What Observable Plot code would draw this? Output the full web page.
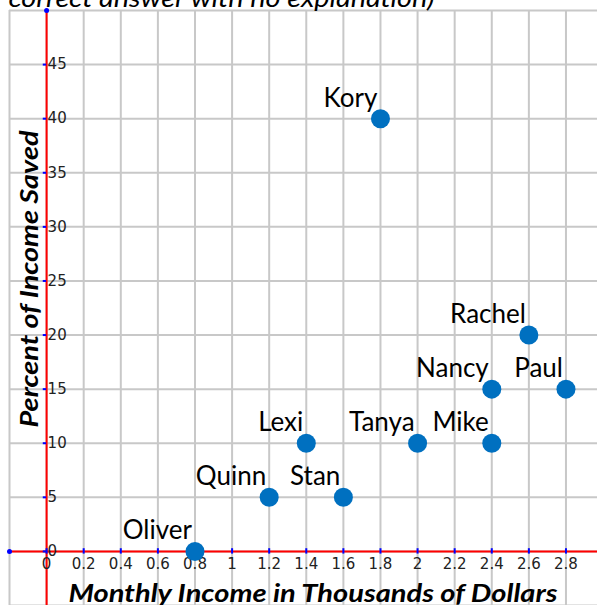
<!DOCTYPE html>
<html><head><meta charset="utf-8">
<script src="https://cdn.jsdelivr.net/npm/d3@7"></script>
<script src="https://cdn.jsdelivr.net/npm/@observablehq/plot@0.6"></script>
<style>html,body{margin:0;padding:0;background:#fff;overflow:hidden}</style>
</head><body><div id="chart"></div>
<script>
// ---- data ----
const names  = ["Oliver", "Quinn", "Stan", "Lexi", "Tanya", "Mike", "Nancy", "Paul", "Rachel", "Kory"];
const income = [0.8, 1.2, 1.6, 1.4, 2.0, 2.4, 2.4, 2.8, 2.6, 1.8];
const saved  = [0, 5, 5, 10, 10, 10, 15, 15, 20, 40];

const xGrid = [-0.2, 0, 0.2, 0.4, 0.6, 0.8, 1, 1.2, 1.4, 1.6, 1.8, 2, 2.2, 2.4, 2.6, 2.8, 3];
const yGrid = [-5, 0, 5, 10, 15, 20, 25, 30, 35, 40, 45, 50];
const xTickValues = [0, 0.2, 0.4, 0.6, 0.8, 1, 1.2, 1.4, 1.6, 1.8, 2, 2.2, 2.4, 2.6, 2.8];
const xTickLabels = ["0", "0.2", "0.4", "0.6", "0.8", "1", "1.2", "1.4", "1.6", "1.8", "2", "2.2", "2.4", "2.6", "2.8"];
const yTickValues = [0, 5, 10, 15, 20, 25, 30, 35, 40, 45];
const yTickLabels = ["0", "5", "10", "15", "20", "25", "30", "35", "40", "45"];

const xTitle  = "Monthly Income in Thousands of Dollars";
const yTitle  = "Percent of Income Saved";
const topNote = "correct answer with no explanation)";

const xDomain = [-0.2, 2.97];
const yDomain = [-5, 50];

const people = names.map((n, i) => ({name: n, income: income[i], saved: saved[i]}));
const axisEnds = [{x: 0, y: yDomain[1]}, {x: xDomain[0], y: 0}];

const labelFont = "Lato, Calibri, 'Open Sans', sans-serif";
const tickFont = "'DejaVu Sans', sans-serif";

const chart = Plot.plot({
  width: 597,
  height: 605,
  marginLeft: 9,
  marginRight: 0,
  marginTop: 10,
  marginBottom: 0,
  x: {domain: xDomain, axis: null},
  y: {domain: yDomain, axis: null},
  style: {background: "white", overflow: "visible"},
  marks: [
    Plot.ruleX(xGrid, {x: d => d, stroke: "#c8c8c8", strokeWidth: 2}),
    Plot.ruleY(yGrid, {y: d => d, stroke: "#c8c8c8", strokeWidth: 2}),
    Plot.ruleY([0], {y: d => d, stroke: "#ff0000", strokeWidth: 2}),
    Plot.ruleX([0], {x: d => d, stroke: "#ff0000", strokeWidth: 2}),
    Plot.ruleX(xTickValues, {x: d => d, y1: -0.25, y2: 0.25, stroke: "#0000ff", strokeWidth: 2}),
    Plot.ruleY(yTickValues, {y: d => d, x1: -0.018, x2: 0, stroke: "#0000ff", strokeWidth: 2}),
    Plot.dot(axisEnds, {x: "x", y: "y", r: 2.5, fill: "#0000ff"}),
    Plot.text(xTickValues, {x: d => d, y: 0, text: (d, i) => xTickLabels[i], dy: 13,
      lineAnchor: "middle", fontSize: 15, fontFamily: tickFont, fill: "#222"}),
    Plot.text(yTickValues, {x: 0, y: d => d, text: (d, i) => yTickLabels[i], dx: 1,
      textAnchor: "start", lineAnchor: "middle", fontSize: 15, fontFamily: tickFont, fill: "#222"}),
    Plot.dot(people, {x: "income", y: "saved", r: 9.5, fill: "#0070C0"}),
    Plot.text(people, {x: "income", y: "saved", text: "name", textAnchor: "end", lineAnchor: "bottom",
      dx: -3, dy: -12, fontSize: 26, fontFamily: labelFont, fill: "#000"}),
    Plot.text([xTitle], {frameAnchor: "bottom", text: d => d, lineAnchor: "bottom", dx: 9.5, dy: -4,
      fontSize: 25, fontWeight: "bold", fontStyle: "italic", fontFamily: labelFont, fill: "#000"}),
    Plot.text([yTitle], {frameAnchor: "left", text: d => d, rotate: -90, textAnchor: "start", lineAnchor: "bottom",
      dx: 28, dy: 119.5,
      fontSize: 25, fontWeight: "bold", fontStyle: "italic", fontFamily: labelFont, fill: "#000"}),
    Plot.text([topNote], {frameAnchor: "top-left", text: d => d, textAnchor: "start", lineAnchor: "bottom", dx: -1, dy: -4,
      fontSize: 25, fontStyle: "italic", fontFamily: labelFont, fill: "#000"})
  ]
});
document.getElementById("chart").appendChild(chart);

// stretch titles to the widths seen in the reference
const lengths = new Map([[xTitle, 489], [yTitle, 297], [topNote, 426]]);
d3.select(chart).selectAll("text").each(function () {
  const t = this.textContent;
  if (lengths.has(t)) {
    this.setAttribute("textLength", lengths.get(t));
    this.setAttribute("lengthAdjust", "spacingAndGlyphs");
  }
});
</script>
</body></html>
